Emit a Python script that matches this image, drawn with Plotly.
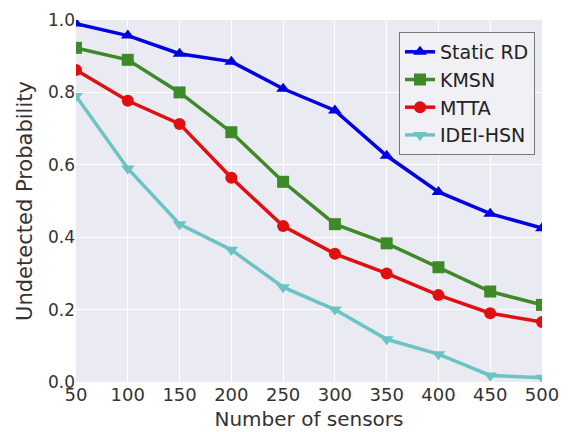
import plotly.graph_objects as go

sensors = [50, 100, 150, 200, 250, 300, 350, 400, 450, 500]
static_rd = [0.99, 0.957, 0.907, 0.885, 0.81, 0.75, 0.625, 0.525, 0.465, 0.425]
kmsn = [0.923, 0.89, 0.80, 0.69, 0.553, 0.436, 0.383, 0.317, 0.25, 0.213]
mtta = [0.862, 0.777, 0.713, 0.564, 0.431, 0.354, 0.30, 0.24, 0.19, 0.166]
idei_hsn = [0.79, 0.59, 0.436, 0.365, 0.262, 0.20, 0.118, 0.077, 0.018, 0.012]

series = [
    ("Static RD", static_rd, "#0000E0", "triangle-up"),
    ("KMSN", kmsn, "#3E8A28", "square"),
    ("MTTA", mtta, "#E01010", "circle"),
    ("IDEI-HSN", idei_hsn, "#6CC3C3", "triangle-down"),
]

fig = go.Figure()
for name, vals, color, sym in series:
    fig.add_trace(go.Scatter(
        x=sensors, y=vals, name=name, mode="lines+markers",
        line=dict(color=color, width=3.5),
        marker=dict(symbol=sym, size=12, color=color),
    ))

font = "DejaVu Sans, Arial, sans-serif"
# page body has an 8px margin, so the figure is sized/offset to compensate
fig.update_layout(
    width=561, height=424,
    margin=dict(l=68, r=27, t=12, b=50),
    paper_bgcolor="white",
    plot_bgcolor="#EAEAF2",
    font=dict(family=font, color="#333333", size=17),
    showlegend=True,
    legend=dict(
        x=0.985, y=0.967, xanchor="right", yanchor="top",
        bgcolor="#F0F0F5", bordercolor="#777777", borderwidth=1,
        font=dict(size=19, color="#222222"),
        tracegroupgap=0,
    ),
    xaxis=dict(
        range=[50, 500], tickvals=sensors,
        showgrid=True, gridcolor="white", gridwidth=1,
        zeroline=False, showline=False, ticks="", automargin=False,
        tickfont=dict(size=18, color="#333333"),
        title=dict(text="Number of sensors", font=dict(size=20, color="#333333"), standoff=7),
    ),
    yaxis=dict(
        range=[0, 1.0], tickvals=[0.0, 0.2, 0.4, 0.6, 0.8, 1.0],
        ticktext=["0.0", "0.2", "0.4", "0.6", "0.8", "1.0"],
        showgrid=True, gridcolor="white", gridwidth=1,
        zeroline=False, showline=False, ticks="", automargin=False,
        tickfont=dict(size=17, color="#333333"),
        title=dict(text="Undetected Probability", font=dict(size=21, color="#333333"), standoff=9),
    ),
)

fig.write_html("out.html")
